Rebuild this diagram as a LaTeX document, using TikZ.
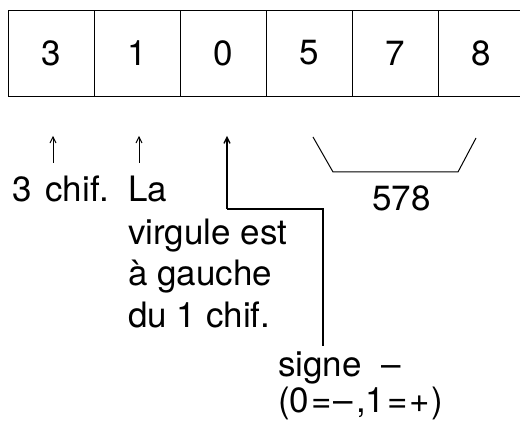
\documentclass[tikz,border=0pt]{standalone}
\usepackage{fontspec}
\setmainfont{TeX Gyre Heros}
\usetikzlibrary{arrows.meta}
\tikzset{
  cell/.style={draw, line width=0.9pt, outer sep=0pt, minimum width=86pt, minimum height=86pt, inner sep=0pt, font=\fontsize{35}{42}\selectfont},
  opencell/.style={outer sep=0pt, minimum width=82pt, minimum height=86pt, inner sep=0pt, font=\fontsize{35}{42}\selectfont},
  lbl/.style={anchor=base west, inner sep=0pt, font=\fontsize{35}{42}\selectfont},
  ptr/.style={line width=0.9pt, -{Straight Barb[length=6pt,width=6pt]}},
  link/.style={line width=1.3pt},
}
\begin{document}
\begin{tikzpicture}[x=1pt,y=-1pt]
\useasboundingbox (0,0) rectangle (520,427);
% cells
\node[cell] (c1) at (51,53) {3};
\node[cell] (c2) at (137,53) {1};
\node[cell] (c3) at (223,53) {0};
\node[cell] (c4) at (309,53) {5};
\node[cell] (c5) at (395,53) {7};
\node[opencell] (c6) at (481,53) {8};
\coordinate (rt) at (520,10);
\coordinate (rb) at (520,96);
\draw[line width=0.9pt] (c5.north east) -- (rt);
\draw[line width=0.9pt] (c5.south east) -- (rb);
% labels
\node[lbl] (t1) at (12,202) {3\kern4pt{} chif.};
\node[lbl] (t2) at (128,202) {La};
\node[lbl] (t3) at (128,245) {virgule est};
\node[lbl] (t4) at (128,286) {à gauche};
\node[lbl] (t5) at (128,328) {du 1 chif.};
\node[lbl] (t6) at (278,377) {signe \ –};
\node[lbl] (t7) at (278,413) {(0\kern2pt=\kern2pt–\kern3pt,1\kern2pt=\kern2pt+\kern1pt)};
\node[lbl] (t8) at (372,211) {578};
% pointers
\coordinate (p1s) at (53,163);
\coordinate (p1e) at (53,136);
\coordinate (p2s) at (139,163);
\coordinate (p2e) at (139,136);
\coordinate (p3e) at (227,136);
\coordinate (p3k) at (227,209);
\coordinate (p3m) at (323,209);
\coordinate (p3s) at (323,346);
\draw[ptr] (p1s) -- (p1e);
\draw[ptr] (p2s) -- (p2e);
\draw[link] (p3s) -- (p3m) -- (p3k);
\draw[ptr, line width=1.3pt] (p3k) -- (p3e);
% bracket
\coordinate (b1) at (313,137);
\coordinate (b2) at (333,172);
\coordinate (b3) at (458,172);
\coordinate (b4) at (476,138);
\draw[line width=1pt] (b1) -- (b2) -- (b3) -- (b4);
\end{tikzpicture}
\end{document}
